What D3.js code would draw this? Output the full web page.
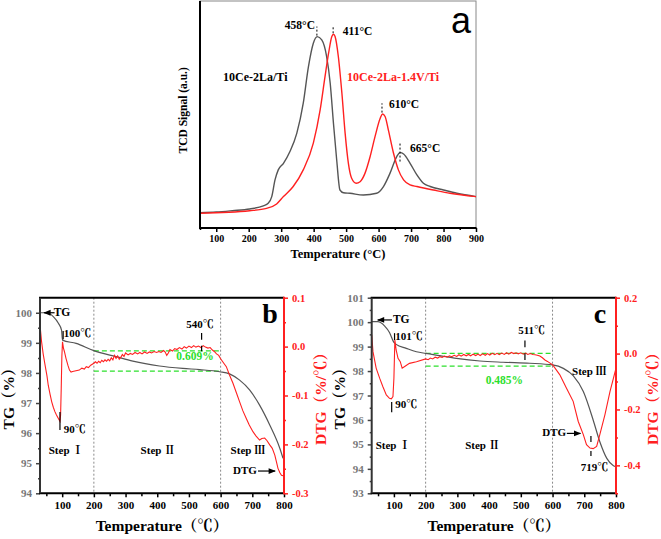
<!DOCTYPE html>
<html><head><meta charset="utf-8">
<script src="https://cdn.jsdelivr.net/npm/d3@7"></script>
<style>
body{margin:0;background:#fff}
svg{display:block}
</style>
</head><body>
<svg id="chart" width="661" height="539"></svg>
<script>
// ---------------- DATA ----------------
// Panel a: H2-TPR
const tprTempGray = [50,100,150,203,245,260,271,281,291,307,327,348,368,384,399,411,425,440,451,461,471,481,492,512,553,594,615,635,656,666,677,697,718,738,759,800,841,900];
const tprGray     = [8.1,8.4,9.1,10.0,11.6,12.9,16.4,25.0,30.2,33.6,39.7,49.1,64.7,83.6,95.7,99.1,97.4,88.8,75.0,54.3,35.3,19.8,18.4,18.1,17.2,18.1,21.6,28.4,37.1,39.1,38.4,33.6,27.6,23.3,21.6,19.8,18.1,16.4];
const tprTempRed  = [50,203,255,286,307,337,368,399,420,435,446,456,461,466,476,487,497,507,517,531,543,558,574,589,605,612,620,630,646,661,677,697,718,769,820,900];
const tprRed      = [7.8,9.1,10.3,12.6,16.4,21.6,30.2,44.0,61.2,78.4,90.5,99.1,100.3,99.1,88.8,69.8,49.1,33.6,25.9,23.3,24.1,28.4,37.1,47.4,56.9,59.1,57.8,50.9,38.8,30.2,25.0,22.4,21.6,19.8,18.1,16.4];
const tprSeriesNames = ["10Ce-2La/Ti","10Ce-2La-1.4V/Ti"];
const tprTicks = [100,200,300,400,500,600,700,800,900];
const tprPeakLabels = ["458°C","411°C","610°C","665°C"];

// Panel b: TG / DTG
const tgbTemp = [30,51,72,88,98,101,144,200,270,323,407,481,534,597,628,660,692,723,755,787,797];
const tgbTG   = [100.0,100.0,99.87,99.65,99.42,99.09,98.98,98.74,98.54,98.39,98.23,98.15,98.11,98.04,97.97,97.76,97.43,96.93,96.27,95.49,95.16];
const dtgbTemp = [30,35,40,46,52,56,62,67,72,77,82,88,93,95,97,99,101,104,107,112,118,123,128,133,140,147,154,162,170,176,183,190,
  200,205,210,215,220,225,230,235,240,245,250,255,260,265,270,275,280,285,290,295,300,308,315,322,330,338,345,352,360,368,375,382,390,398,405,412,420,425,430,435,440,448,455,462,470,478,485,492,500,508,515,522,530,538,545,552,560,567,574,580,587,594,600,
  610,618,628,639,650,660,670,681,690,702,712,723,730,739,746,755,763,771,776,781,787,792,797];
const dtgbDTG = [0.044,0.010,-0.015,-0.038,-0.060,-0.079,-0.098,-0.113,-0.124,-0.133,-0.140,-0.147,-0.153,-0.140,-0.085,-0.020,0.010,-0.003,-0.010,-0.024,-0.038,-0.048,-0.052,-0.051,-0.050,-0.049,-0.048,-0.044,-0.046,-0.041,-0.043,-0.038,
  -0.034,-0.031,-0.034,-0.030,-0.033,-0.028,-0.031,-0.027,-0.030,-0.026,-0.029,-0.023,-0.027,-0.018,-0.024,-0.019,-0.026,-0.022,-0.016,-0.020,-0.013,-0.017,-0.014,-0.016,-0.012,-0.015,-0.012,-0.015,-0.011,-0.014,-0.011,-0.013,-0.010,-0.012,-0.010,-0.012,-0.008,-0.011,-0.018,-0.013,-0.006,-0.009,-0.004,-0.006,-0.002,-0.005,0.000,-0.003,0.001,-0.002,0.002,-0.001,0.001,-0.002,0.002,-0.001,-0.003,-0.002,-0.007,-0.010,-0.015,-0.018,-0.025,
  -0.034,-0.041,-0.058,-0.075,-0.095,-0.113,-0.131,-0.147,-0.160,-0.174,-0.183,-0.191,-0.188,-0.187,-0.192,-0.201,-0.208,-0.222,-0.235,-0.249,-0.258,-0.263,-0.264];

// Panel c: TG / DTG
const tgcTemp = [30,49,71,86,100,107,139,171,200,244,297,371,444,528,600,634,665,697,728,749,771,792,800];
const tgcTG   = [100.02,100.02,99.84,99.58,99.17,99.09,98.93,98.79,98.72,98.63,98.52,98.41,98.36,98.32,98.25,98.11,97.81,97.16,96.00,95.11,94.43,94.13,94.09];
const dtgcTemp = [30,34,44,55,65,76,86,92,97,100,103,107,113,120,126,134,149,171,
  200,208,215,222,230,238,245,252,260,268,275,282,290,298,305,312,320,328,335,342,350,358,365,372,380,388,395,402,410,418,425,432,440,448,455,462,470,478,485,492,500,508,515,522,530,538,545,552,560,568,576,584,592,600,
  623,644,665,681,697,707,718,728,739,749,765,781,792,800];
const dtgcDTG = [0.067,0.007,-0.052,-0.088,-0.118,-0.148,-0.160,-0.162,-0.154,-0.088,0.049,0.013,-0.017,-0.029,-0.052,-0.046,-0.035,-0.029,
  -0.019,-0.022,-0.016,-0.019,-0.013,-0.016,-0.011,-0.014,-0.009,-0.013,-0.008,-0.011,-0.006,-0.010,-0.004,-0.009,-0.003,-0.008,-0.003,-0.008,-0.002,-0.007,-0.002,-0.007,-0.001,-0.006,0.000,-0.005,0.001,-0.004,0.001,-0.004,0.002,-0.003,0.003,-0.002,0.004,0.000,0.003,-0.001,0.003,-0.002,0.002,-0.003,0.000,-0.003,-0.004,-0.006,-0.009,-0.015,-0.023,-0.028,-0.034,-0.040,
  -0.076,-0.124,-0.171,-0.243,-0.290,-0.326,-0.338,-0.340,-0.332,-0.290,-0.219,-0.136,-0.088,-0.052];

const tgTicks = [100,200,300,400,500,600,700,800];
const stepLabels = ["Step Ⅰ","Step Ⅱ","Step Ⅲ"];

// ---------------- DRAW ----------------
const svg = d3.select("#chart");
const SERIF = '"Liberation Serif","Times New Roman","Noto Serif CJK SC","Noto Sans CJK SC",serif';
const LINEGRAY = "#555";
const RED = "#ff2020";
const GREEN = "#2de02d";

const defs = svg.append("defs");
defs.append("marker").attr("id","arr").attr("viewBox","0 0 10 10").attr("refX",9).attr("refY",5)
  .attr("markerWidth",7).attr("markerHeight",6).attr("orient","auto")
  .append("path").attr("d","M0,1L10,5L0,9Z").attr("fill","#000");

function txt(g, x, y, s, o = {}) {
  return g.append("text").attr("x", x).attr("y", y).text(s)
    .attr("font-family", o.family || SERIF).attr("font-weight", o.weight || "bold")
    .attr("font-size", o.size || 11).attr("fill", o.fill || "#000")
    .attr("text-anchor", o.anchor || "start").attr("dominant-baseline", o.base || "auto");
}
function styleAxis(ax, color, size, labColor) {
  ax.select(".domain").remove();
  ax.selectAll(".tick line").attr("stroke", color).attr("stroke-width", 1.5);
  ax.selectAll("text").attr("font-family", SERIF).attr("font-weight", "bold")
    .attr("font-size", size).attr("fill", labColor || color);
}

// ===== Panel a =====
const xA = d3.scaleLinear().domain([50, 900]).range([200, 476]);
const yA = d3.scaleLinear().domain([0, 117.5]).range([228.3, 1]);
const gA = svg.append("g");
gA.append("rect").attr("x", 200).attr("y", 1).attr("width", 276).attr("height", 227)
  .attr("fill", "none").attr("stroke", "#888").attr("stroke-width", 1);
const lineA = d3.line().x(d => xA(d[0])).y(d => yA(d[1])).curve(d3.curveMonotoneX);
gA.append("path").datum(d3.zip(tprTempGray, tprGray)).attr("d", lineA)
  .attr("fill", "none").attr("stroke", LINEGRAY).attr("stroke-width", 1.4);
gA.append("path").datum(d3.zip(tprTempRed, tprRed)).attr("d", lineA)
  .attr("fill", "none").attr("stroke", RED).attr("stroke-width", 1.4);
let ax = gA.append("g").attr("transform", "translate(0,228)")
  .call(d3.axisBottom(xA).tickValues(tprTicks).tickSize(4).tickPadding(3));
styleAxis(ax, "#000", 10);
ax = gA.append("g").attr("transform", "translate(0,228)")
  .call(d3.axisBottom(xA).tickValues(d3.range(50, 901, 100)).tickSize(2).tickFormat(""));
styleAxis(ax, "#000", 10);
gA.append("line").attr("x1", 199).attr("x2", 476.5).attr("y1", 228).attr("y2", 228).attr("stroke", "#000").attr("stroke-width", 2);
gA.append("line").attr("x1", 200).attr("x2", 200).attr("y1", 1).attr("y2", 229).attr("stroke", "#000").attr("stroke-width", 2);

txt(gA, xA(475), 258, "Temperature (°C)", { size: 12.5, anchor: "middle" });
txt(gA, 0, 0, "TCD Signal (a.u.)", { size: 11.5, anchor: "middle" })
  .attr("transform", `translate(187,${yA(61)}) rotate(-90)`);
txt(gA, 461, 33, "a", { family: '"Liberation Sans",Arial,sans-serif', weight: "normal", size: 36, anchor: "middle" });

// peak markers (dashed)
const peakMarks = [[410, 99.6, 104.3], [460, 100.8, 104.3], [610.5, 59.8, 64.6], [666, 34.5, 44.5]];
peakMarks.forEach(p => gA.append("line").attr("x1", xA(p[0])).attr("x2", xA(p[0]))
  .attr("y1", yA(p[1])).attr("y2", yA(p[2])).attr("stroke", "#000").attr("stroke-width", 1).attr("stroke-dasharray", "2,2"));
txt(gA, xA(404), yA(103.0), tprPeakLabels[0], { size: 11.5, anchor: "end" });
txt(gA, xA(490), yA(99.8), tprPeakLabels[1], { size: 11.5 });
txt(gA, xA(632), yA(62), tprPeakLabels[2], { size: 11.5 });
txt(gA, xA(697), yA(39.3), tprPeakLabels[3], { size: 11.5 });
txt(gA, xA(121), yA(76), tprSeriesNames[0], { size: 12 });
txt(gA, xA(503), yA(76), tprSeriesNames[1], { size: 12, fill: RED });

// ===== TG/DTG panels =====
function tgPanel(c) {
  const g = svg.append("g");
  const x = d3.scaleLinear().domain([30, 800]).range([c.x0, c.x1]);
  const yl = d3.scaleLinear().domain(c.tgDom).range([493.3, 297.7]);
  const yr = d3.scaleLinear().domain(c.dtgDom).range([493.3, 297.7]);
  const top = 297.7, bot = 493.3;

  // dotted step separators
  [200, 600].forEach(t => g.append("line").attr("x1", x(t)).attr("x2", x(t)).attr("y1", top).attr("y2", bot)
    .attr("stroke", "#8a8a8a").attr("stroke-width", 1).attr("stroke-dasharray", "2,2"));
  // green dashed band
  c.band.forEach(v => g.append("line").attr("x1", x(200)).attr("x2", x(600)).attr("y1", yl(v)).attr("y2", yl(v))
    .attr("stroke", GREEN).attr("stroke-width", 1.2).attr("stroke-dasharray", "5,3"));

  g.append("path").datum(d3.zip(c.tgT, c.tgV))
    .attr("d", d3.line().x(d => x(d[0])).y(d => yl(d[1])).curve(d3.curveMonotoneX))
    .attr("fill", "none").attr("stroke", LINEGRAY).attr("stroke-width", 1.2);
  g.append("path").datum(d3.zip(c.dT, c.dV))
    .attr("d", d3.line().x(d => x(d[0])).y(d => yr(d[1])).curve(d3.curveLinear))
    .attr("fill", "none").attr("stroke", RED).attr("stroke-width", 1.1);

  // axes
  let a = g.append("g").attr("transform", `translate(0,${bot})`)
    .call(d3.axisBottom(x).tickValues(tgTicks).tickSize(4).tickPadding(4));
  styleAxis(a, "#000", 11);
  a = g.append("g").attr("transform", `translate(0,${bot})`)
    .call(d3.axisBottom(x).tickValues(d3.range(50, 800, 100)).tickSize(3).tickFormat(""));
  styleAxis(a, "#000", 11);
  a = g.append("g").attr("transform", `translate(${c.x0},0)`)
    .call(d3.axisLeft(yl).tickValues(d3.range(c.tgDom[0], Math.floor(c.tgDom[1]) + 1)).tickSize(4).tickPadding(4).tickFormat(d3.format("d")));
  styleAxis(a, "#444", 11, "#777");
  a = g.append("g").attr("transform", `translate(${c.x0},0)`)
    .call(d3.axisLeft(yl).tickValues(d3.range(c.tgDom[0] + 0.5, c.tgDom[1], 1)).tickSize(2).tickFormat(""));
  styleAxis(a, "#444", 11);
  a = g.append("g").attr("transform", `translate(${c.x1},0)`)
    .call(d3.axisRight(yr).tickValues(c.dtgTicks).tickSize(4).tickPadding(4).tickFormat(d => (Math.abs(d) < 1e-9 ? 0 : d).toFixed(1)));
  styleAxis(a, RED, 10.5);
  a = g.append("g").attr("transform", `translate(${c.x1},0)`)
    .call(d3.axisRight(yr).tickValues(c.dtgMinor).tickSize(2).tickFormat(""));
  styleAxis(a, RED, 10.5);

  g.append("line").attr("x1", c.x0 - 1).attr("x2", c.x1).attr("y1", top).attr("y2", top).attr("stroke", "#000").attr("stroke-width", 2);
  g.append("line").attr("x1", c.x0 - 1).attr("x2", c.x1).attr("y1", bot).attr("y2", bot).attr("stroke", "#000").attr("stroke-width", 2);
  g.append("line").attr("x1", c.x0).attr("x2", c.x0).attr("y1", top).attr("y2", bot).attr("stroke", "#333").attr("stroke-width", 2);
  g.append("line").attr("x1", c.x1).attr("x2", c.x1).attr("y1", top - 1).attr("y2", bot + 1).attr("stroke", RED).attr("stroke-width", 2);

  // titles
  txt(g, (c.x0 + c.x1) / 2, 531, "Temperature（℃）", { size: 15.5, anchor: "middle" });
  txt(g, 0, 0, "TG（%）", { size: 15.5, anchor: "middle", base: "middle" })
    .attr("transform", `translate(${c.x0 - 30},395) rotate(-90)`);
  txt(g, 0, 0, "DTG（%/℃）", { size: 15.5, anchor: "middle", base: "middle", fill: RED })
    .attr("transform", `translate(${c.x1 + 38},395) rotate(-90)`);
  txt(g, c.letterX, 323, c.letter, { size: 28, anchor: "middle" });

  // annotations
  const mark = (t, y1, y2) => g.append("line").attr("x1", x(t)).attr("x2", x(t)).attr("y1", y1).attr("y2", y2)
    .attr("stroke", "#000").attr("stroke-width", 1.2);
  c.marks.forEach(m => mark(m[0], yl(m[1]), yl(m[2])));
  c.labels.forEach(l => txt(g, x(l[0]), yl(l[1]), l[2], { size: l[4] || 11, anchor: l[3] || "start", base: "middle", fill: l[5] || "#000" }));
  c.arrows.forEach(r => g.append("line").attr("x1", x(r[0])).attr("x2", x(r[1])).attr("y1", yl(r[2])).attr("y2", yl(r[2]))
    .attr("stroke", "#000").attr("stroke-width", 1.2).attr("marker-end", "url(#arr)"));
}

tgPanel({
  x0: 40, x1: 284, tgDom: [94, 100.5], dtgDom: [-0.3, 0.1],
  dtgTicks: [-0.3, -0.2, -0.1, 0, 0.1], dtgMinor: [-0.25, -0.15, -0.05, 0.05],
  tgT: tgbTemp, tgV: tgbTG, dT: dtgbTemp, dV: dtgbDTG,
  band: [98.73, 98.06], letter: "b", letterX: 270,
  marks: [[103, 99.39, 99.12], [93, 96.7, 96.1], [540, 99.33, 99.1], [540, 98.9, 98.72]],
  labels: [
    [73, 99.99, "TG", "start", 11.5], [105, 99.27, "100℃", "start", 11], [105, 96.1, "90℃", "start", 11],
    [535, 99.57, "540℃", "middle", 11], [519, 98.53, "0.609%", "middle", 11.5, GREEN],
    [112, 95.38, stepLabels[0], "middle", 11], [402, 95.38, stepLabels[1], "middle", 11], [686, 95.38, stepLabels[2], "middle", 11],
    [677, 94.74, "DTG", "middle", 11]
  ],
  arrows: [[76, 43, 100.0], [718, 772, 94.74]]
});

tgPanel({
  x0: 371.7, x1: 616, tgDom: [93, 101], dtgDom: [-0.5, 0.2],
  dtgTicks: [-0.4, -0.2, 0, 0.2], dtgMinor: [-0.5, -0.3, -0.1, 0.1],
  tgT: tgcTemp, tgV: tgcTG, dT: dtgcTemp, dV: dtgcDTG,
  band: [98.72, 98.2], letter: "c", letterX: 600,
  marks: [[102, 99.55, 99.27], [93, 96.73, 96.32], [513, 99.25, 98.97], [513, 98.72, 98.45], [721, 95.34, 95.1], [721, 94.73, 94.53]],
  labels: [
    [97, 100.09, "TG", "start", 11.5], [104, 99.36, "101℃", "start", 11], [104, 96.61, "90℃", "start", 11],
    [534, 99.6, "511℃", "middle", 11], [448, 97.56, "0.485%", "middle", 11.5, GREEN],
    [97, 94.93, stepLabels[0], "middle", 11], [379, 94.93, stepLabels[1], "middle", 11], [716, 97.96, stepLabels[2], "middle", 11],
    [605, 95.45, "DTG", "middle", 11], [732, 94.03, "719℃", "middle", 11]
  ],
  arrows: [[94, 49, 100.09], [645, 688, 95.45]]
});
</script>
</body></html>
